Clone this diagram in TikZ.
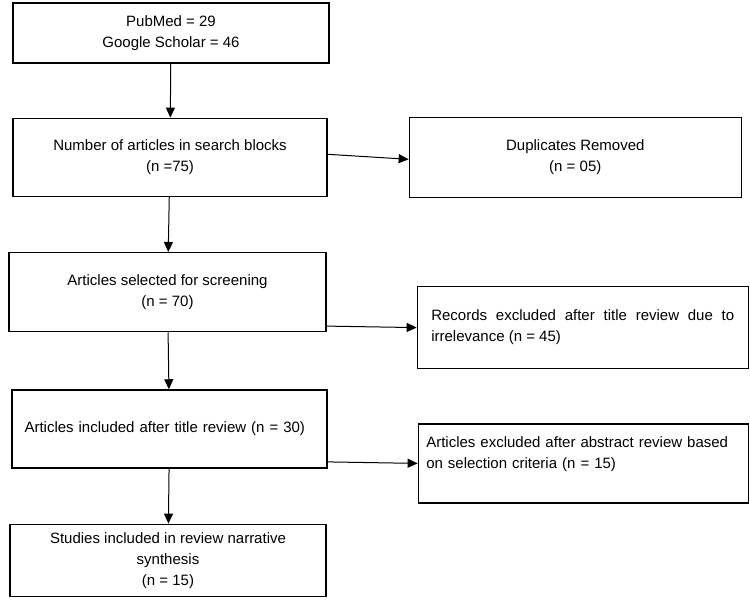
\documentclass[tikz,border=0pt]{standalone}
\usepackage{fontspec}
\setmainfont{Liberation Sans}
\usetikzlibrary{arrows.meta,positioning}
\hyphenpenalty=10000

\begin{document}
\begin{tikzpicture}[
    box/.style={draw,line width=1.3pt,align=center,inner sep=6pt,font=\fontsize{15}{21}\selectfont},
    >={Triangle[length=10pt,width=9pt]}
  ]
    \useasboundingbox (0,0) rectangle (750pt,-600pt);
    \node[box,minimum width=316pt,minimum height=60pt] (src) at (171pt,-33pt) {PubMed = 29\\Google Scholar = 46};
    \node[box,minimum width=314pt,minimum height=78pt,below=54pt of src,xshift=-1pt] (blocks) {Number of articles in search blocks\\(n =75)};
    \node[box,minimum width=332pt,minimum height=80pt,right=81pt of blocks] (dup) {Duplicates Removed\\(n = 05)};
    \node[box,minimum width=317pt,minimum height=79pt,below=55pt of blocks,xshift=-2.5pt] (screen) {Articles selected for screening\\(n = 70)};
    \node[box,minimum width=331pt,minimum height=82pt,text width=303pt,align=justify,right=90pt of screen,yshift=-35.5pt] (recs) {Records excluded after title review due to irrelevance (n = 45)};
    \node[box,minimum width=315pt,minimum height=78pt,text width=290pt,align=left,below=57pt of screen,xshift=2pt] (incl) {Articles included after title review (n = 30)};
    \node[box,minimum width=330pt,minimum height=79pt,text width=314pt,align=left,right=90pt of incl,yshift=-34.5pt] (absx) {Articles excluded after abstract review based\\on selection criteria (n = 15)\\\mbox{}};
    \node[box,minimum width=316pt,minimum height=72pt,below=55pt of incl,xshift=-1.5pt] (final) {Studies included in review narrative\\synthesis\\(n = 15)};

    \draw[->,line width=1pt] (src) -- (blocks);
    \draw[->,line width=1pt] ([yshift=3pt]blocks.east) -- ([yshift=-2pt]dup.west);
    \draw[->,line width=1pt] (blocks) -- (screen);
    \draw[->,line width=1pt] ([yshift=-34pt]screen.east) -- (recs.west);
    \draw[->,line width=1pt] (screen) -- (incl);
    \draw[->,line width=1pt] ([yshift=-33pt]incl.east) -- (absx.west);
    \draw[->,line width=1pt] (incl) -- (final);
  \end{tikzpicture}
\end{document}
